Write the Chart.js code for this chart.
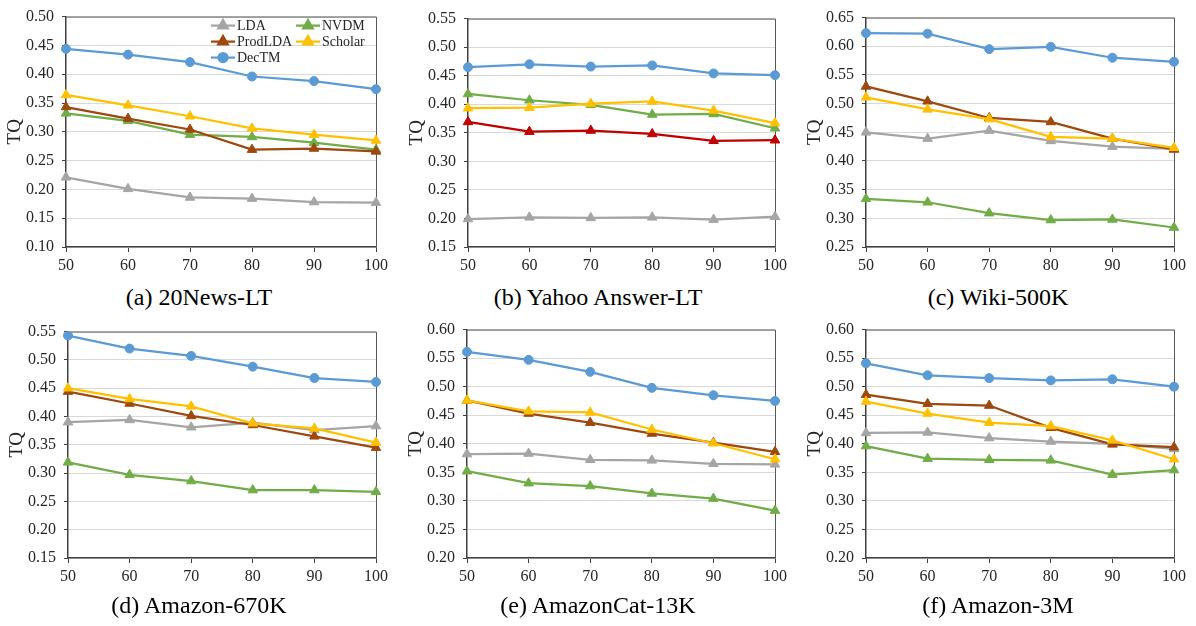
<!DOCTYPE html>
<html>
<head>
<meta charset="utf-8">
<script src="https://cdn.jsdelivr.net/npm/chart.js@4.4.0/dist/chart.umd.min.js"></script>
<style>
body { margin: 0; background: #fff; width: 1196px; height: 626px; position: relative; overflow: hidden; font-family: "Liberation Serif", "Times New Roman", serif; }
canvas { position: absolute; }
.cap { position: absolute; font-size: 24px; color: #000; transform: translate(-50%, -50%); white-space: nowrap; }
</style>
</head>
<body>
<script>
// x axis = number of topics
var xLabels = ['50', '60', '70', '80', '90', '100']
var seriesNames = ['LDA', 'NVDM', 'ProdLDA', 'Scholar', 'DecTM']
var captions = ['(a) 20News-LT', '(b) Yahoo Answer-LT', '(c) Wiki-500K', '(d) Amazon-670K', '(e) AmazonCat-13K', '(f) Amazon-3M']
var yMin = [0.10, 0.15, 0.25, 0.15, 0.20, 0.20]
var yMax = [0.50, 0.55, 0.65, 0.55, 0.60, 0.60]

// (a) 20News-LT
var a_lda = [0.221, 0.201, 0.186, 0.184, 0.178, 0.177]
var a_nvdm = [0.332, 0.319, 0.295, 0.291, 0.281, 0.269]
var a_prod = [0.343, 0.323, 0.304, 0.269, 0.271, 0.266]
var a_scholar = [0.364, 0.346, 0.327, 0.306, 0.295, 0.285]
var a_dectm = [0.444, 0.434, 0.421, 0.396, 0.388, 0.374]
// (b) Yahoo Answer-LT
var b_lda = [0.199, 0.202, 0.201, 0.202, 0.198, 0.203]
var b_nvdm = [0.418, 0.407, 0.399, 0.382, 0.383, 0.358]
var b_prod = [0.369, 0.352, 0.354, 0.348, 0.336, 0.337]
var b_scholar = [0.393, 0.394, 0.401, 0.405, 0.389, 0.367]
var b_dectm = [0.465, 0.470, 0.466, 0.468, 0.454, 0.451]
// (c) Wiki-500K
var c_lda = [0.450, 0.439, 0.453, 0.435, 0.425, 0.421]
var c_nvdm = [0.334, 0.328, 0.309, 0.297, 0.298, 0.284]
var c_prod = [0.530, 0.504, 0.475, 0.468, 0.439, 0.420]
var c_scholar = [0.511, 0.490, 0.473, 0.442, 0.439, 0.423]
var c_dectm = [0.623, 0.622, 0.595, 0.599, 0.580, 0.573]
// (d) Amazon-670K
var d_lda = [0.390, 0.394, 0.381, 0.389, 0.376, 0.383]
var d_nvdm = [0.319, 0.297, 0.286, 0.270, 0.270, 0.267]
var d_prod = [0.444, 0.423, 0.401, 0.385, 0.365, 0.345]
var d_scholar = [0.450, 0.431, 0.418, 0.388, 0.379, 0.354]
var d_dectm = [0.543, 0.520, 0.507, 0.488, 0.468, 0.461]
// (e) AmazonCat-13K
var e_lda = [0.382, 0.383, 0.372, 0.371, 0.365, 0.364]
var e_nvdm = [0.352, 0.331, 0.326, 0.313, 0.304, 0.283]
var e_prod = [0.476, 0.453, 0.437, 0.418, 0.402, 0.386]
var e_scholar = [0.476, 0.457, 0.455, 0.425, 0.401, 0.373]
var e_dectm = [0.561, 0.547, 0.526, 0.498, 0.485, 0.475]
// (f) Amazon-3M
var f_lda = [0.419, 0.420, 0.410, 0.404, 0.400, 0.391]
var f_nvdm = [0.396, 0.374, 0.372, 0.371, 0.346, 0.354]
var f_prod = [0.486, 0.470, 0.467, 0.428, 0.399, 0.394]
var f_scholar = [0.474, 0.453, 0.437, 0.431, 0.406, 0.373]
var f_dectm = [0.541, 0.520, 0.515, 0.511, 0.513, 0.500]

var panelData = [
    [a_lda, a_nvdm, a_prod, a_scholar, a_dectm],
    [b_lda, b_nvdm, b_prod, b_scholar, b_dectm],
    [c_lda, c_nvdm, c_prod, c_scholar, c_dectm],
    [d_lda, d_nvdm, d_prod, d_scholar, d_dectm],
    [e_lda, e_nvdm, e_prod, e_scholar, e_dectm],
    [f_lda, f_nvdm, f_prod, f_scholar, f_dectm]
]

var colors = ['#A5A5A5', '#70AD47', '#9E480E', '#FFC000', '#5B9BD5']
var shapes = ['triangle', 'triangle', 'triangle', 'triangle', 'circle']
// plot boxes: left, right, top, bottom
var boxes = [
    [66, 376, 11, 247], [468, 775, 13, 247], [866, 1174, 12, 247],
    [68, 376, 326, 558], [467, 775, 324, 558], [866, 1174, 324, 558]
]
var capX = [199, 598, 998]
var capY = [297, 605]

var FONT = '"Liberation Serif", "Times New Roman", serif'
var YW = 62, PT = 12, PR = 16, XH = 36

var framePlugin = {
    id: 'frame',
    beforeDatasetsDraw: function(chart) {
        var ctx = chart.ctx, ca = chart.chartArea
        ctx.save()
        ctx.strokeStyle = '#595959'
        ctx.lineWidth = 1
        ctx.beginPath()
        ctx.moveTo(ca.left, ca.top + 0.5)
        ctx.lineTo(ca.right + 0.5, ca.top + 0.5)
        ctx.lineTo(ca.right + 0.5, ca.bottom)
        ctx.stroke()
        ctx.restore()
    }
}

var boxLegend = {
    id: 'boxLegend',
    afterDraw: function(chart) {
        if (!chart.options.plugins.boxLegend.show) return
        var ctx = chart.ctx, ca = chart.chartArea
        var pos = [[145, 9], [230, 9], [145, 25], [230, 25], [145, 41]]
        chart.data.datasets.forEach(function(ds, i) {
            var x = ca.left + pos[i][0], y = ca.top + pos[i][1]
            ctx.save()
            ctx.strokeStyle = ds.borderColor
            ctx.lineWidth = 2.25
            ctx.beginPath()
            ctx.moveTo(x, y)
            ctx.lineTo(x + 24, y)
            ctx.stroke()
            ctx.fillStyle = ds.backgroundColor
            Chart.helpers.drawPoint(ctx, { pointStyle: ds.pointStyle, radius: ds.pointRadius, borderWidth: 1, rotation: 0 }, x + 12, y)
            ctx.fillStyle = '#262626'
            ctx.font = '14px ' + FONT
            ctx.textBaseline = 'middle'
            ctx.textAlign = 'left'
            ctx.fillText(ds.label, x + 26, y + 1)
            ctx.restore()
        })
    }
}

boxes.forEach(function(b, p) {
    var cv = document.createElement('canvas')
    var w = b[1] - b[0] + YW + PR, h = b[3] - b[2] + PT + XH
    cv.width = w
    cv.height = h
    cv.style.left = (b[0] - YW) + 'px'
    cv.style.top = (b[2] - PT) + 'px'
    document.body.appendChild(cv)

    var datasets = []
    panelData[p].forEach(function(vals, i) {
        var c = colors[i]
        if (p == 1 && i == 2) c = '#C00000' // ProdLDA is red in (b)
        datasets.push({
            label: seriesNames[i],
            data: vals,
            borderColor: c,
            backgroundColor: c,
            borderWidth: 2.25,
            pointStyle: shapes[i],
            pointRadius: shapes[i] == 'circle' ? 4.5 : 5.5,
            pointBorderWidth: 1,
            order: 5 - i,
            tension: 0
        })
    })

    new Chart(cv.getContext('2d'), {
        type: 'line',
        data: { labels: xLabels, datasets: datasets },
        plugins: [framePlugin, boxLegend],
        options: {
            responsive: false,
            animation: false,
            devicePixelRatio: 1,
            layout: { padding: { top: PT, right: PR, left: 0, bottom: 0 } },
            plugins: {
                legend: { display: false },
                tooltip: { enabled: false },
                boxLegend: { show: p == 0 }
            },
            scales: {
                x: {
                    offset: false,
                    afterFit: function(s) { s.height = XH },
                    grid: { drawOnChartArea: false, drawTicks: true, tickLength: 5, tickColor: '#404040' },
                    border: { color: '#404040', width: 1.5 },
                    ticks: { color: '#262626', padding: 4, maxRotation: 0, font: { family: FONT, size: 16 } }
                },
                y: {
                    min: yMin[p],
                    max: yMax[p],
                    afterFit: function(s) { s.width = YW },
                    grid: { color: '#D9D9D9', lineWidth: 1, tickLength: 4, tickColor: '#404040' },
                    border: { color: '#404040', width: 1.5 },
                    ticks: {
                        stepSize: 0.05, color: '#262626', padding: 8,
                        font: { family: FONT, size: 16 },
                        callback: function(v) { return v.toFixed(2) }
                    },
                    title: { display: true, text: 'TQ', color: '#262626', padding: 0, font: { family: FONT, size: 19 } }
                }
            }
        }
    })

    var cap = document.createElement('div')
    cap.className = 'cap'
    cap.textContent = captions[p]
    cap.style.left = capX[p % 3] + 'px'
    cap.style.top = capY[Math.floor(p / 3)] + 'px'
    document.body.appendChild(cap)
})
</script>
</body>
</html>
